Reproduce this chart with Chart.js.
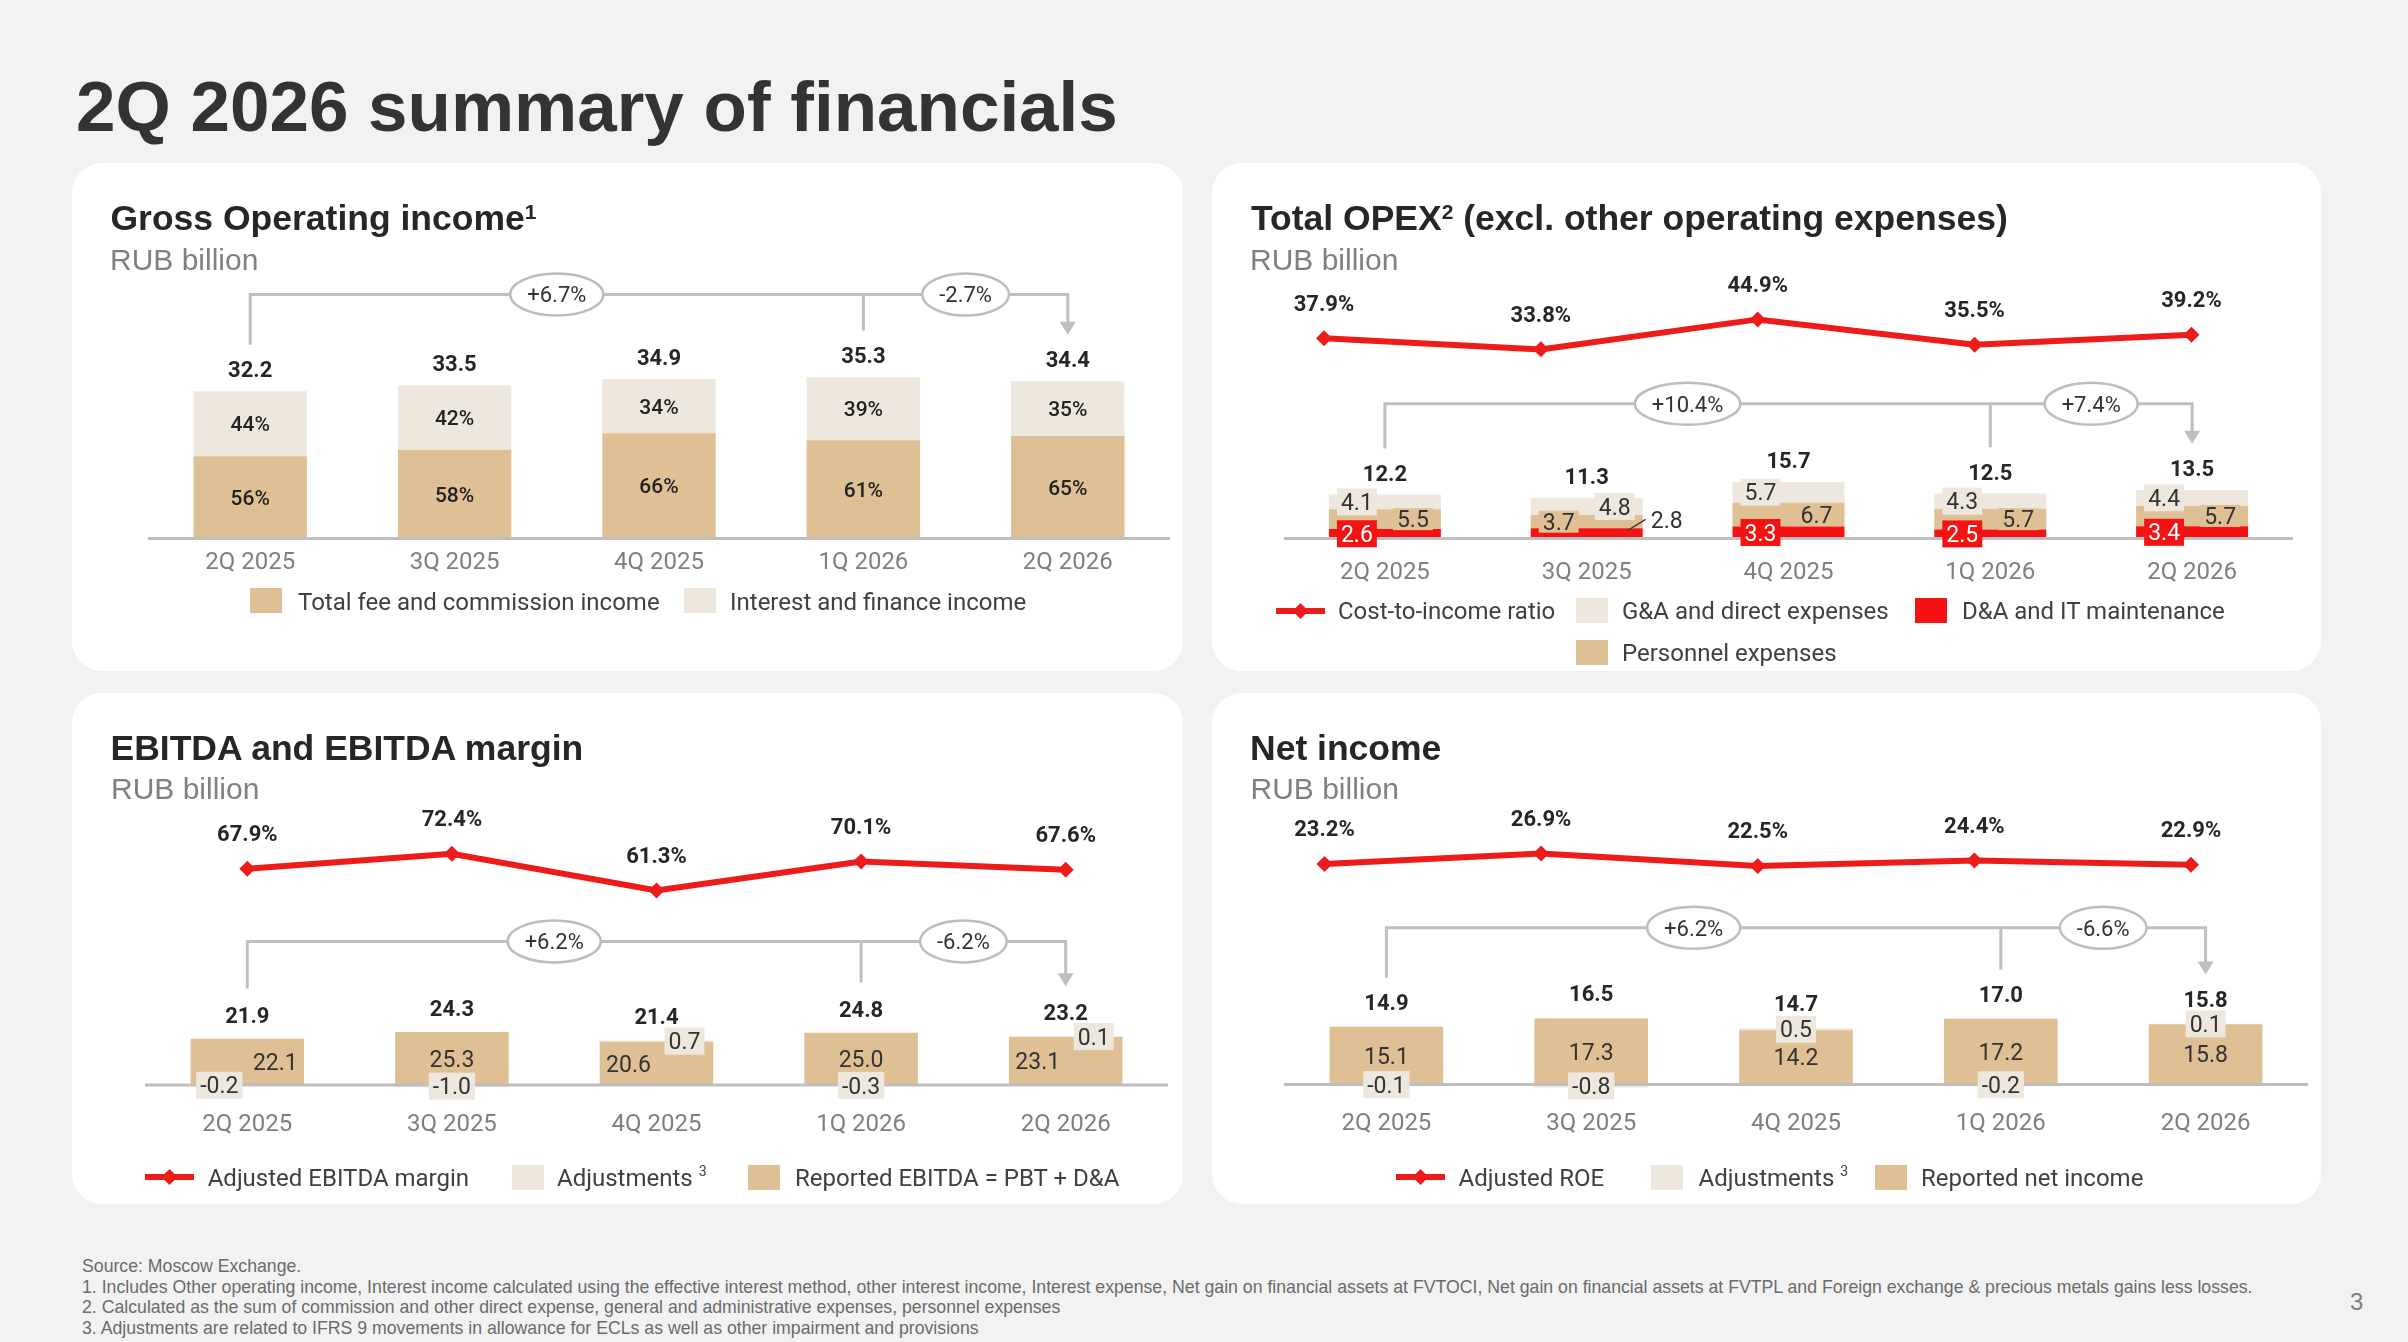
<!DOCTYPE html>
<html>
<head>
<meta charset="utf-8">
<script src="https://cdn.jsdelivr.net/npm/chart.js@4.4.1/dist/chart.umd.min.js"></script>
<style>
html,body{margin:0;padding:0;}
body{width:2408px;height:1342px;background:#f2f2f2;position:relative;overflow:hidden;font-family:Roboto,sans-serif;}
.t{position:absolute;white-space:nowrap;line-height:1;}
.t sup{line-height:0;}
.panel{position:absolute;background:#fff;border-radius:30px;}
.cw{position:absolute;}
.sq{position:absolute;width:32px;height:25px;}
</style>
</head>
<body>
<div class="panel" style="left:72px;top:163px;width:1111px;height:508px"></div>
<div class="panel" style="left:1212px;top:163px;width:1109px;height:508px"></div>
<div class="panel" style="left:72px;top:693px;width:1111px;height:511px"></div>
<div class="panel" style="left:1212px;top:693px;width:1109px;height:511px"></div>

<div class="cw" style="left:72px;top:163px;width:1111px;height:508px"><canvas id="c1"></canvas></div>
<div class="cw" style="left:1212px;top:163px;width:1109px;height:508px"><canvas id="c2"></canvas></div>
<div class="cw" style="left:1212px;top:163px;width:1109px;height:508px"><canvas id="c2l"></canvas></div>
<div class="cw" style="left:72px;top:693px;width:1111px;height:511px"><canvas id="c3"></canvas></div>
<div class="cw" style="left:1212px;top:693px;width:1109px;height:511px"><canvas id="c4"></canvas></div>
<div class="cw" style="left:1212px;top:693px;width:1109px;height:511px"><canvas id="c4l"></canvas></div>

<script>
// ---------- DATA ----------
const quarters = ['2Q 2025', '3Q 2025', '4Q 2025', '1Q 2026', '2Q 2026'];

// Gross operating income
const goiTotal = [32.2, 33.5, 34.9, 35.3, 34.4];
const goiFee = [18.0, 19.4, 23.0, 21.5, 22.4];
const goiInterest = [14.2, 14.1, 11.9, 13.8, 12.0];
const goiFeeShare = ['56%', '58%', '66%', '61%', '65%'];
const goiInterestShare = ['44%', '42%', '34%', '39%', '35%'];
const goiChange = ['+6.7%', '-2.7%'];

// Total OPEX
const opexTotal = [12.2, 11.3, 15.7, 12.5, 13.5];
const opexDA = [2.6, 2.8, 3.3, 2.5, 3.4];
const opexPersonnel = [5.5, 3.7, 6.7, 5.7, 5.7];
const opexGA = [4.1, 4.8, 5.7, 4.3, 4.4];
const costToIncome = [37.9, 33.8, 44.9, 35.5, 39.2];
const opexChange = ['+10.4%', '+7.4%'];

// EBITDA
const ebitdaTotal = [21.9, 24.3, 21.4, 24.8, 23.2];
const ebitdaReported = [22.1, 25.3, 20.6, 25.0, 23.1];
const ebitdaAdj = [-0.2, -1.0, 0.7, -0.3, 0.1];
const ebitdaMargin = [67.9, 72.4, 61.3, 70.1, 67.6];
const ebitdaChange = ['+6.2%', '-6.2%'];

// Net income
const niTotal = [14.9, 16.5, 14.7, 17.0, 15.8];
const niReported = [15.1, 17.3, 14.2, 17.2, 15.8];
const niAdj = [-0.1, -0.8, 0.5, -0.2, 0.1];
const adjRoe = [23.2, 26.9, 22.5, 24.4, 22.9];
const niChange = ['+6.2%', '-6.6%'];

// ---------- STYLE ----------
const C = {tan:'#DFBF94', light:'#EEE7DD', red:'#F51212', line:'#EE1B1B', grid:'#BFBFBF', text:'#262626', tick:'#7F7F7F', leg:'#404040'};
Chart.defaults.font.family = 'Roboto';

function T(html, x, base, size, o) {
  o = o || {};
  const fam = o.fam || 'Roboto';
  const k = fam.indexOf('Liberation') === 0 ? 0.8465 : 0.8418;
  const el = document.createElement('div');
  el.className = 't';
  el.style.left = x + 'px';
  el.style.top = (base - k * size) + 'px';
  el.style.fontSize = size + 'px';
  el.style.fontFamily = fam;
  el.style.fontWeight = o.w || 400;
  el.style.color = o.c || C.leg;
  el.innerHTML = html;
  document.body.appendChild(el);
}
function SQ(x, y, color) {
  const el = document.createElement('div');
  el.className = 'sq';
  el.style.left = x + 'px'; el.style.top = y + 'px'; el.style.background = color;
  document.body.appendChild(el);
}
function LM(x, cy) {
  const ns = 'http://www.w3.org/2000/svg';
  const s = document.createElementNS(ns, 'svg');
  s.setAttribute('width', '49'); s.setAttribute('height', '20');
  s.style.position = 'absolute'; s.style.left = x + 'px'; s.style.top = (cy - 10) + 'px';
  s.innerHTML = '<line x1="0" y1="10" x2="49" y2="10" stroke="' + C.line + '" stroke-width="6"/>' +
    '<polygon points="24.5,2 32.5,10 24.5,18 16.5,10" fill="' + C.line + '"/>';
  document.body.appendChild(s);
}

// ---------- TEXT ----------
const LS = 'Liberation Sans';
T('2Q 2026 summary of financials', 76, 130.7, 71, {fam:LS, w:700, c:'#333333'});
const supT = '<sup style="font-size:21px;vertical-align:11px">';
const ttl = {fam:LS, w:700, c:C.text};
const sub = {fam:LS, c:'#808080'};
T('Gross Operating income' + supT + '1</sup>', 110.5, 231, 35.5, ttl);
T('RUB billion', 110, 270, 30, sub);
T('Total OPEX' + supT + '2</sup> (excl. other operating expenses)', 1251, 231, 35.5, ttl);
T('RUB billion', 1250, 270, 30, sub);
T('EBITDA and EBITDA margin', 110.5, 761, 35.5, ttl);
T('RUB billion', 111, 799, 30, sub);
T('Net income', 1250, 761, 35.5, ttl);
T('RUB billion', 1250.5, 799, 30, sub);

const supL = ' <sup style="font-size:14px;vertical-align:10px">3</sup>';
// legends
SQ(250, 588, C.tan); T('Total fee and commission income', 298, 610, 24);
SQ(684, 588, C.light); T('Interest and finance income', 730, 610, 24);

LM(1276, 610.7); T('Cost-to-income ratio', 1338, 619.5, 24);
SQ(1576, 598, C.light); T('G&amp;A and direct expenses', 1622, 619.5, 24);
SQ(1915, 598, C.red); T('D&amp;A and IT maintenance', 1962, 619.5, 24);
SQ(1576, 640, C.tan); T('Personnel expenses', 1622, 661.5, 24);

LM(145, 1177); T('Adjusted EBITDA margin', 207.7, 1186.5, 24);
SQ(512, 1164.5, C.light); T('Adjustments' + supL, 557, 1186.5, 24);
SQ(748, 1164.5, C.tan); T('Reported EBITDA = PBT + D&amp;A', 795, 1186.5, 24);

LM(1396, 1177); T('Adjusted ROE', 1458.6, 1186.5, 24);
SQ(1651, 1164.5, C.light); T('Adjustments' + supL, 1698.6, 1186.5, 24);
SQ(1874.5, 1164.5, C.tan); T('Reported net income', 1921, 1186.5, 24);

// footnotes
const fn = {fam:LS, c:'#6b6b6b'};
T('Source: Moscow Exchange.', 82, 1273, 17.7, fn);
T('1. Includes Other operating income, Interest income calculated using the effective interest method, other interest income, Interest expense, Net gain on financial assets at FVTOCI, Net gain on financial assets at FVTPL and Foreign exchange &amp; precious metals gains less losses.', 82, 1293.5, 17.7, fn);
T('2. Calculated as the sum of commission and other direct expense, general and administrative expenses, personnel expenses', 82, 1314, 17.7, fn);
T('3. Adjustments are related to IFRS 9 movements in allowance for ECLs as well as other impairment and provisions', 82, 1334.5, 17.7, fn);
T('3', 2350, 1310, 24, {fam:LS, c:'#7f7f7f'});

// ---------- PLUGINS ----------
function fnt(size, weight) { return (weight || 400) + ' ' + size + 'px Roboto'; }
function drawLabel(ctx, txt, cx, cy, s) {
  const size = s.size || 23, weight = s.weight || 400;
  ctx.font = fnt(size, weight);
  const w = ctx.measureText(txt).width;
  if (s.box) {
    const padX = s.padX || 4, h = s.boxH || 27;
    ctx.fillStyle = s.box;
    ctx.fillRect(cx - w / 2 - padX, cy - h / 2, w + 2 * padX, h);
  }
  ctx.fillStyle = s.color || '#333';
  ctx.textAlign = 'center';
  ctx.textBaseline = 'alphabetic';
  ctx.fillText(txt, cx, cy + 0.355 * size);
}

const annot = {
  id: 'annot',
  afterDatasetsDraw(chart, args, o) {
    const ctx = chart.ctx, xs = chart.scales.x, ys = chart.scales.y, a = chart.chartArea;
    const n = chart.data.labels.length;
    ctx.save();
    const y0 = ys.getPixelForValue(0);
    ctx.strokeStyle = C.grid; ctx.lineWidth = 3;
    ctx.beginPath(); ctx.moveTo(a.left, y0); ctx.lineTo(a.right, y0); ctx.stroke();

    const tops = new Array(n).fill(Infinity);
    chart.data.datasets.forEach((ds, di) => {
      if (ds.type === 'line') return;
      chart.getDatasetMeta(di).data.forEach((el, i) => { tops[i] = Math.min(tops[i], el.y, el.base); });
    });

    const order = o.labelOrder || chart.data.datasets.map((_, i) => i);
    order.forEach(di => {
      const ds = chart.data.datasets[di];
      const s = ds.seg;
      if (!s) return;
      chart.getDatasetMeta(di).data.forEach((el, i) => {
        const v = ds.data[i];
        const t = s.text ? s.text[i] : v.toFixed(1);
        const side = s.sides ? s.sides[i] : 'center';
        const cy = (el.y + el.base) / 2;
        if (side === 'outside') {
          ctx.strokeStyle = '#404040'; ctx.lineWidth = 1.5;
          ctx.beginPath(); ctx.moveTo(el.x + 41, cy - 3); ctx.lineTo(el.x + 59, cy - 14); ctx.stroke();
          drawLabel(ctx, t, el.x + 80, cy - 14, {size: s.size, weight: s.weight, color: '#333'});
        } else {
          const dx = side === 'left' ? -28 : (side === 'right' ? 28 : 0);
          drawLabel(ctx, t, el.x + dx, cy, s);
        }
      });
    });

    const baselines = [];
    if (o.totals) {
      ctx.font = fnt(22, 700); ctx.fillStyle = C.text; ctx.textAlign = 'center'; ctx.textBaseline = 'alphabetic';
      o.totals.forEach((v, i) => {
        const b = tops[i] - o.totalOffset;
        baselines.push(b);
        ctx.fillText(v.toFixed(1), xs.getPixelForValue(i), b);
      });
    }

    if (o.changes && baselines.length) {
      const cap = baselines.map(b => b - 0.711 * 22);
      const yl = Math.min.apply(null, cap) - o.lift;
      const xA = xs.getPixelForValue(0), xQ = xs.getPixelForValue(n - 2), xB = xs.getPixelForValue(n - 1);
      const tip = cap[n - 1] - o.gap;
      ctx.strokeStyle = C.grid; ctx.lineWidth = 3;
      ctx.beginPath();
      ctx.moveTo(xA, cap[0] - o.gap); ctx.lineTo(xA, yl); ctx.lineTo(xB, yl); ctx.lineTo(xB, tip - 10);
      ctx.moveTo(xQ, yl); ctx.lineTo(xQ, cap[n - 2] - o.gap);
      ctx.stroke();
      ctx.fillStyle = C.grid;
      ctx.beginPath(); ctx.moveTo(xB - 8, tip - 13); ctx.lineTo(xB + 8, tip - 13); ctx.lineTo(xB, tip); ctx.closePath(); ctx.fill();
      [[(xA + xQ) / 2, o.changes[0]], [(xQ + xB) / 2, o.changes[1]]].forEach(p => {
        ctx.font = fnt(22, 400);
        const w = ctx.measureText(p[1]).width;
        ctx.beginPath(); ctx.ellipse(p[0], yl, w / 2 + 17, 21, 0, 0, Math.PI * 2);
        ctx.fillStyle = '#fff'; ctx.fill();
        ctx.strokeStyle = '#BDBDBD'; ctx.lineWidth = 2.5; ctx.stroke();
        ctx.fillStyle = '#333'; ctx.textAlign = 'center'; ctx.textBaseline = 'alphabetic';
        ctx.fillText(p[1], p[0], yl + 0.355 * 22);
      });
    }
    ctx.restore();
  }
};

const lineLbl = {
  id: 'lineLbl',
  afterDatasetsDraw(chart) {
    const ctx = chart.ctx;
    ctx.save();
    chart.data.datasets.forEach((ds, di) => {
      if (ds.type !== 'line') return;
      ctx.font = fnt(22, 700); ctx.fillStyle = C.text; ctx.textAlign = 'center'; ctx.textBaseline = 'alphabetic';
      chart.getDatasetMeta(di).data.forEach((pt, i) => ctx.fillText(ds.data[i].toFixed(1) + '%', pt.x, pt.y - 27.5));
    });
    ctx.restore();
  }
};

const barBase = {type: 'bar', stack: 's', barPercentage: 0.555, categoryPercentage: 1, borderWidth: 0, order: 1, clip: false};
function lineSet(label, data, yId) {
  return {type: 'line', label: label, data: data, yAxisID: yId, borderColor: C.line, backgroundColor: C.line,
    borderWidth: 6, pointStyle: 'rectRot', pointRadius: 8, pointBackgroundColor: C.line, pointBorderWidth: 0,
    tension: 0, order: 0, clip: false};
}
function opts(pad, tickPad, yMax, y2, plug) {
  const sc = {
    x: {stacked: true, grid: {display: false, drawTicks: false}, border: {display: false},
        ticks: {padding: tickPad, color: C.tick, font: {size: 24}, maxRotation: 0, autoSkip: false}},
    y: {stacked: true, display: false, min: 0, max: yMax}
  };
  if (y2) sc.y2 = {display: false, min: y2[0], max: y2[1]};
  return {
    animation: false, responsive: true, maintainAspectRatio: false, events: [],
    layout: {padding: pad},
    plugins: {legend: {display: false}, tooltip: {enabled: false}, annot: plug},
    scales: sc
  };
}
// separate line layer (its own x range, as in the original slide)
function lineChart(id, label, data, pad, yr) {
  return new Chart(document.getElementById(id), {
    type: 'line',
    data: {labels: quarters, datasets: [lineSet(label, data, 'y')]},
    options: {
      animation: false, responsive: true, maintainAspectRatio: false, events: [],
      layout: {padding: pad},
      plugins: {legend: {display: false}, tooltip: {enabled: false}},
      scales: {
        x: {display: false, offset: false},
        y: {display: false, min: yr[0], max: yr[1]}
      }
    },
    plugins: [lineLbl]
  });
}

// Chart 1: Gross operating income
new Chart(document.getElementById('c1'), {
  type: 'bar',
  data: {labels: quarters, datasets: [
    Object.assign({}, barBase, {label: 'Total fee and commission income', data: goiFee, backgroundColor: C.tan,
      seg: {text: goiFeeShare, size: 21, weight: 500, color: '#222'}}),
    Object.assign({}, barBase, {label: 'Interest and finance income', data: goiInterest, backgroundColor: C.light,
      seg: {text: goiInterestShare, size: 21, weight: 500, color: '#222'}})
  ]},
  options: opts({left: 76, right: 13, top: 10, bottom: 83.4}, 10.2, 80, null,
    {totals: goiTotal, totalOffset: 14, changes: goiChange, lift: 53, gap: 17}),
  plugins: [annot]
});

// Chart 2: Total OPEX (bars)
new Chart(document.getElementById('c2'), {
  type: 'bar',
  data: {labels: quarters, datasets: [
    Object.assign({}, barBase, {label: 'D&A and IT maintenance', data: opexDA, backgroundColor: C.red,
      seg: {sides: ['left', 'outside', 'left', 'left', 'left'], box: C.red, color: '#fff', boxH: 27}}),
    Object.assign({}, barBase, {label: 'Personnel expenses', data: opexPersonnel, backgroundColor: C.tan,
      seg: {sides: ['right', 'left', 'right', 'right', 'right'], box: C.tan, boxH: 22}}),
    Object.assign({}, barBase, {label: 'G&A and direct expenses', data: opexGA, backgroundColor: C.light,
      seg: {sides: ['left', 'right', 'left', 'left', 'left'], box: C.light, boxH: 27}})
  ]},
  options: opts({left: 72, right: 28, top: 10, bottom: 62.8}, 20.5, 101.7, null,
    {totals: opexTotal, totalOffset: 13.5, changes: opexChange, lift: 49, gap: 17, labelOrder: [1, 2, 0]}),
  plugins: [annot]
});
// Chart 2: cost-to-income line
lineChart('c2l', 'Cost-to-income ratio', costToIncome, {left: 112, right: 129.5, top: 10, bottom: 132}, [-36.43, 99.12]);

// Chart 3: EBITDA
new Chart(document.getElementById('c3'), {
  type: 'bar',
  data: {labels: quarters, datasets: [
    Object.assign({}, barBase, {label: 'Reported EBITDA = PBT + D&A', data: ebitdaReported, backgroundColor: C.tan,
      seg: {sides: ['right', 'center', 'left', 'center', 'left']}}),
    Object.assign({}, barBase, {label: 'Adjustments', data: ebitdaAdj, backgroundColor: C.light,
      seg: {sides: ['left', 'center', 'right', 'center', 'right'], box: C.light}}),
    lineSet('Adjusted EBITDA margin', ebitdaMargin, 'y2')
  ]},
  options: opts({left: 73, right: 15, top: 10, bottom: 39.1}, 25.5, 182.2, [2.43, 118.05],
    {totals: ebitdaTotal, totalOffset: 16, changes: ebitdaChange, lift: 59, gap: 18.5}),
  plugins: [annot, lineLbl]
});

// Chart 4: Net income (bars)
new Chart(document.getElementById('c4'), {
  type: 'bar',
  data: {labels: quarters, datasets: [
    Object.assign({}, barBase, {label: 'Reported net income', data: niReported, backgroundColor: C.tan,
      seg: {}}),
    Object.assign({}, barBase, {label: 'Adjustments', data: niAdj, backgroundColor: C.light,
      seg: {box: C.light}})
  ]},
  options: opts({left: 72, right: 13, top: 10, bottom: 39.8}, 25.5, 100, null,
    {totals: niTotal, totalOffset: 17, changes: niChange, lift: 58, gap: 16.5}),
  plugins: [annot]
});
// Chart 4: adjusted ROE line
lineChart('c4l', 'Adjusted ROE', adjRoe, {left: 112.5, right: 130, top: 10, bottom: 119}, [-55.17, 80.29]);
</script>
</body>
</html>
